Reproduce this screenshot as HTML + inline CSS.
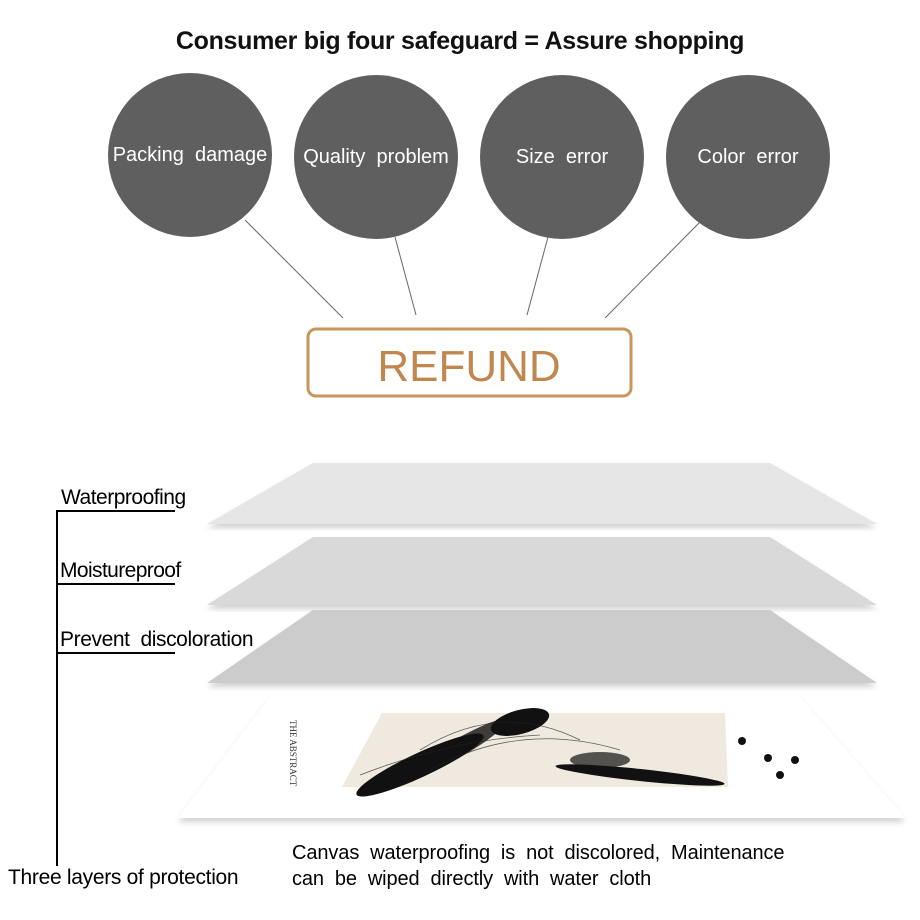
<!DOCTYPE html>
<html><head><style>
body{margin:0;width:920px;height:920px;background:#fff;position:relative;overflow:hidden;font-family:"Liberation Sans",sans-serif}
.t{position:absolute;white-space:nowrap}
.c{position:absolute;width:164px;height:164px;border-radius:50%;background:#5f5f5f;color:#fff;font-size:20px;display:flex;align-items:center;justify-content:center}
</style></head><body>
<div class="t" style="left:0;width:920px;text-align:center;top:27px;font-size:25px;font-weight:bold;color:#111;letter-spacing:-0.3px">Consumer big four safeguard = Assure shopping</div>
<div class="c" style="left:108px;top:73px">Packing&nbsp; damage</div>
<div class="c" style="left:294px;top:75px">Quality&nbsp; problem</div>
<div class="c" style="left:480px;top:75px">Size&nbsp; error</div>
<div class="c" style="left:666px;top:75px">Color&nbsp; error</div>
<svg width="920" height="920" style="position:absolute;left:0;top:0">
<g stroke="#666" stroke-width="1">
<line x1="245" y1="220" x2="343" y2="318"/><line x1="395" y1="237" x2="416" y2="315"/>
<line x1="548" y1="237" x2="527" y2="315"/><line x1="700" y1="222" x2="605" y2="318"/>
</g>
<rect x="308" y="329" width="323" height="67" rx="8" fill="none" stroke="#c8955a" stroke-width="3"/>
<text x="469" y="381" text-anchor="middle" font-family="Liberation Sans" font-size="44" fill="#c0884f">REFUND</text>
<defs><filter id="s"><feDropShadow dx="0" dy="4" stdDeviation="3" flood-color="#000" flood-opacity="0.18"/></filter></defs>
<polygon points="313,463 770,463 877,524 207,524" fill="#e6e6e6" filter="url(#s)"/>
<polygon points="313,537 770,537 877,605 207,605" fill="#d9d9d9" filter="url(#s)"/>
<polygon points="313,610 770,610 877,683 207,683" fill="#cccccc" filter="url(#s)"/>
<polygon points="270,697 800,697 905,818 178,818" fill="#fff" filter="url(#s)"/>
<polygon points="382,713 725,713 728,787 342,787" fill="#efe9e0"/>
<g fill="#111">
<ellipse cx="420" cy="765" rx="70" ry="12" transform="rotate(-25 420 765)"/>
<ellipse cx="455" cy="750" rx="60" ry="9" transform="rotate(-30 455 750)" opacity="0.8"/>
<ellipse cx="520" cy="722" rx="30" ry="12" transform="rotate(-15 520 722)"/>
<ellipse cx="640" cy="775" rx="85" ry="6" transform="rotate(6 640 775)"/>
<ellipse cx="600" cy="760" rx="30" ry="8" opacity="0.7"/>
<circle cx="742" cy="741" r="4"/><circle cx="768" cy="758" r="4"/><circle cx="795" cy="760" r="4"/><circle cx="780" cy="775" r="4"/>
</g>
<g stroke="#222" stroke-width="0.8" fill="none" opacity="0.7">
<path d="M420,750 Q500,700 580,740"/><path d="M430,770 Q520,720 620,750"/><path d="M360,775 Q450,740 540,735"/>
</g>
<text x="290" y="720" font-family="Liberation Serif" font-size="9" fill="#333" transform="rotate(90 290 720)">THE ABSTRACT</text>
<g stroke="#000" stroke-width="2">
<line x1="57" y1="510" x2="57" y2="866"/>
<line x1="56" y1="511" x2="175" y2="511"/><line x1="56" y1="584" x2="175" y2="584"/><line x1="56" y1="653" x2="175" y2="653"/>
</g>
</svg>
<div class="t" style="left:61px;top:486px;font-size:21px;letter-spacing:-0.5px">Waterproofing</div>
<div class="t" style="left:60px;top:559px;font-size:21px;letter-spacing:-0.6px">Moistureproof</div>
<div class="t" style="left:60px;top:628px;font-size:21px;letter-spacing:-0.4px">Prevent&nbsp; discoloration</div>
<div class="t" style="left:8px;top:866px;font-size:21px;letter-spacing:-0.3px">Three layers of protection</div>
<div class="t" style="left:292px;top:840px;font-size:20px;line-height:26px;letter-spacing:-0.1px">Canvas&nbsp; waterproofing&nbsp; is&nbsp; not&nbsp; discolored,&nbsp; Maintenance<br>can&nbsp; be&nbsp; wiped&nbsp; directly&nbsp; with&nbsp; water&nbsp; cloth</div>
</body></html>
